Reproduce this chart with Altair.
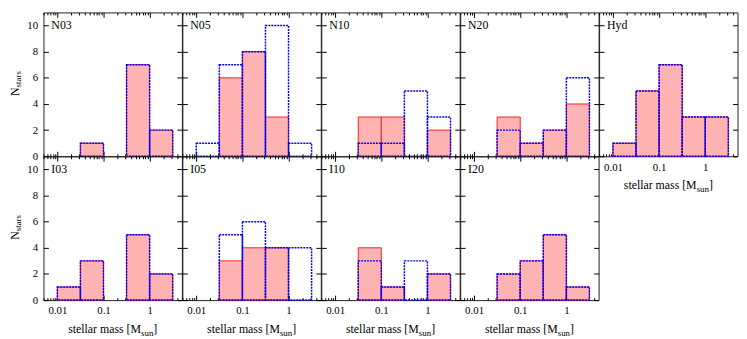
import altair as alt
import pandas as pd

FONT = "Liberation Serif, Times New Roman, DejaVu Serif, serif"

panel_names = ["N03", "N05", "N10", "N20", "Hyd", "I03", "I05", "I10", "I20"]
bin_lo = [0.01, 0.0316, 0.1, 0.316, 1.0]
bin_hi = [0.0316, 0.1, 0.316, 1.0, 3.16]

red_N03 = [0, 1, 0, 7, 2]
blue_N03 = [0, 1, 0, 7, 2]
red_N05 = [0, 6, 8, 3, 0]
blue_N05 = [1, 7, 8, 10, 1]
red_N10 = [0, 3, 3, 0, 2]
blue_N10 = [0, 1, 1, 5, 3]
red_N20 = [0, 3, 1, 2, 4]
blue_N20 = [0, 2, 1, 2, 6]
red_Hyd = [1, 5, 7, 3, 3]
blue_Hyd = [1, 5, 7, 3, 3]
red_I03 = [1, 3, 0, 5, 2]
blue_I03 = [1, 3, 0, 5, 2]
red_I05 = [0, 3, 4, 4, 0]
blue_I05 = [0, 5, 6, 4, 4]
red_I10 = [0, 4, 1, 0, 2]
blue_I10 = [0, 3, 1, 3, 2]
red_I20 = [0, 2, 3, 5, 1]
blue_I20 = [0, 2, 3, 5, 1]

red_counts = {"N03": red_N03, "N05": red_N05, "N10": red_N10, "N20": red_N20, "Hyd": red_Hyd,
              "I03": red_I03, "I05": red_I05, "I10": red_I10, "I20": red_I20}
blue_counts = {"N03": blue_N03, "N05": blue_N05, "N10": blue_N10, "N20": blue_N20, "Hyd": blue_Hyd,
               "I03": blue_I03, "I05": blue_I05, "I10": blue_I10, "I20": blue_I20}

x_major = [0.01, 0.1, 1]
x_minor = [0.005, 0.006, 0.007, 0.008, 0.009,
           0.02, 0.03, 0.04, 0.05, 0.06, 0.07, 0.08, 0.09,
           0.2, 0.3, 0.4, 0.5, 0.6, 0.7, 0.8, 0.9,
           2, 3, 4]
y_ticks = [0, 2, 4, 6, 8, 10]
x_domain = [0.005, 5]
y_domain = [0, 11]

W, H = 140.5, 146


def ax(orient, values, size, labels, **kw):
    return alt.Axis(orient=orient, values=values, tickSize=size, offset=-size, labels=labels,
                    title=None, domain=False, grid=False, tickColor="black", tickWidth=1, **kw)


def text_layer(txt, x, y, size, align="left", angle=0):
    return alt.Chart(pd.DataFrame({"t": [txt]})).mark_text(
        font=FONT, fontSize=size, align=align, baseline="alphabetic", angle=angle, color="black"
    ).encode(x=alt.value(x), y=alt.value(y), text="t:N")


def panel(name):
    df = pd.DataFrame({"lo": bin_lo, "hi": bin_hi,
                       "red": red_counts[name], "blue": blue_counts[name]})
    show_y = name in ("N03", "I03")
    show_x = name in ("Hyd", "I03", "I05", "I10", "I20")
    xs = alt.Scale(type="log", domain=x_domain)
    ys = alt.Scale(domain=y_domain)
    base = alt.Chart(df)

    red = base.transform_filter("datum.red > 0").mark_bar(
        fill="#ffb3b3", stroke="#ff2020", strokeWidth=1
    ).encode(
        x=alt.X("lo:Q", scale=xs, axis=ax("bottom", x_major, 5, show_x, format="~g",
                                           labelPadding=5, labelFont=FONT, labelFontSize=11,
                                           labelColor="black", labelFlush=False)),
        x2="hi:Q",
        y=alt.Y("red:Q", scale=ys, axis=ax("left", y_ticks, 5, show_y, labelPadding=6,
                                            labelFont=FONT, labelFontSize=11, labelColor="black")),
        y2=alt.datum(0),
    )
    blue = base.transform_filter("datum.blue > 0").mark_bar(
        fill="#ffffff", fillOpacity=0, stroke="#0000ff", strokeWidth=1.5, strokeDash=[2, 1]
    ).encode(
        x=alt.X("lo:Q", scale=xs, axis=ax("top", x_major, 5, False)),
        x2="hi:Q",
        y=alt.Y("blue:Q", scale=ys, axis=ax("right", y_ticks, 5, False)),
        y2=alt.datum(0),
    )
    minor_b = base.mark_bar(opacity=0).encode(
        x=alt.X("lo:Q", scale=xs, axis=ax("bottom", x_minor, 2.5, False)),
        x2="hi:Q",
        y=alt.Y("red:Q", scale=ys, axis=None),
        y2=alt.datum(0),
    )
    minor_t = base.mark_bar(opacity=0).encode(
        x=alt.X("lo:Q", scale=xs, axis=ax("top", x_minor, 2.5, False)),
        x2="hi:Q",
        y=alt.Y("blue:Q", scale=ys, axis=None),
        y2=alt.datum(0),
    )

    layers = [red, blue, minor_b, minor_t, text_layer(name, 8, 17, 12)]
    if show_y:
        layers.append(text_layer("N", -25, H / 2 + 11.8, 12, angle=270))
        layers.append(text_layer("stars", -23, H / 2 + 3.1, 9, angle=270))
    if show_x:
        layers.append(text_layer("stellar mass [M", W / 2 + 28.75, H + 33, 12, align="right"))
        layers.append(text_layer("sun", W / 2 + 28.75, H + 36, 9))
        layers.append(text_layer("]", W / 2 + 41.25, H + 33, 12))

    return alt.layer(*layers).resolve_axis(x="independent", y="independent").properties(
        width=W, height=H)


chart = alt.concat(*[panel(n) for n in panel_names], columns=5, spacing=0, bounds="flush").properties(
    padding={"left": 0, "top": 1, "right": 0, "bottom": 0}
).configure_view(stroke="#222222", strokeWidth=1)

chart.save("out.html", embed_options={"renderer": "svg", "actions": False})
